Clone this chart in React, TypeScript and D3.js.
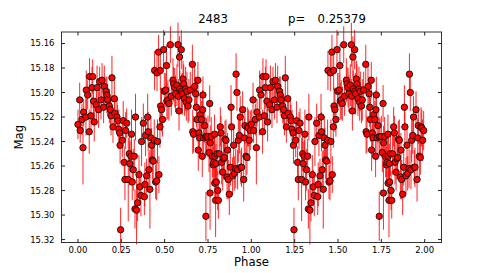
import React, { useRef, useEffect } from "react";
import * as d3 from "d3";

// folded light curve, one cycle (phase 0..1); plotted twice
const phase = [
  0.000, 0.010, 0.013, 0.023, 0.029, 0.033, 0.046, 0.048, 0.056, 0.065,
  0.067, 0.075, 0.081, 0.085, 0.090, 0.094, 0.106, 0.110, 0.119, 0.125,
  0.133, 0.139, 0.148, 0.152, 0.162, 0.167, 0.171, 0.181, 0.187, 0.191,
  0.196, 0.202, 0.210, 0.213, 0.225, 0.229, 0.235, 0.241, 0.243, 0.246,
  0.256, 0.261, 0.267, 0.271, 0.275, 0.281, 0.290, 0.296, 0.299, 0.306,
  0.309, 0.313, 0.319, 0.325, 0.329, 0.332, 0.338, 0.344, 0.352, 0.357,
  0.363, 0.367, 0.377, 0.383, 0.386, 0.390, 0.396, 0.402, 0.405, 0.409,
  0.415, 0.421, 0.425, 0.429, 0.434, 0.440, 0.442, 0.448, 0.454, 0.456,
  0.459, 0.465, 0.467, 0.473, 0.475, 0.477, 0.482, 0.488, 0.494, 0.498,
  0.506, 0.511, 0.513, 0.519, 0.525, 0.533, 0.538, 0.548, 0.552, 0.558,
  0.563, 0.571, 0.577, 0.579, 0.583, 0.586, 0.588, 0.596, 0.598, 0.602,
  0.606, 0.610, 0.615, 0.621, 0.625, 0.629, 0.635, 0.640, 0.648, 0.660,
  0.662, 0.667, 0.673, 0.679, 0.683, 0.687, 0.692, 0.694, 0.698, 0.702,
  0.706, 0.712, 0.717, 0.719, 0.721, 0.725, 0.731, 0.737, 0.738, 0.742,
  0.750, 0.756, 0.760, 0.762, 0.763, 0.769, 0.775, 0.779, 0.783, 0.788,
  0.789, 0.790, 0.794, 0.796, 0.798, 0.802, 0.806, 0.810, 0.815, 0.821,
  0.825, 0.829, 0.835, 0.840, 0.844, 0.848, 0.854, 0.860, 0.863, 0.867,
  0.873, 0.879, 0.883, 0.886, 0.892, 0.898, 0.902, 0.910, 0.912, 0.917,
  0.921, 0.925, 0.931, 0.936, 0.940, 0.944, 0.950, 0.956, 0.960, 0.963,
  0.969, 0.975, 0.979, 0.983, 0.988, 0.994,
];

const mag = [
  15.226, 15.206, 15.231, 15.222, 15.245, 15.216, 15.220, 15.198, 15.202, 15.232,
  15.187, 15.219, 15.196, 15.187, 15.207, 15.224, 15.210, 15.196, 15.214, 15.191,
  15.206, 15.190, 15.212, 15.195, 15.199, 15.202, 15.206, 15.211, 15.214, 15.219,
  15.188, 15.228, 15.205, 15.217, 15.220, 15.223, 15.230, 15.233, 15.243, 15.312,
  15.239, 15.223, 15.257, 15.271, 15.231, 15.225, 15.271, 15.250, 15.258, 15.252,
  15.234, 15.273, 15.263, 15.252, 15.295, 15.220, 15.296, 15.290, 15.267, 15.277,
  15.284, 15.240, 15.225, 15.285, 15.275, 15.235, 15.268, 15.220, 15.232, 15.263,
  15.279, 15.237, 15.243, 15.255, 15.256, 15.239, 15.182, 15.273, 15.272, 15.184,
  15.240, 15.167, 15.267, 15.228, 15.182, 15.211, 15.214, 15.222, 15.165, 15.199,
  15.198, 15.178, 15.207, 15.206, 15.209, 15.161, 15.203, 15.190, 15.193, 15.196,
  15.201, 15.194, 15.161, 15.203, 15.215, 15.171, 15.197, 15.165, 15.199, 15.201,
  15.189, 15.193, 15.205, 15.197, 15.208, 15.199, 15.211, 15.206, 15.198, 15.177,
  15.232, 15.234, 15.195, 15.201, 15.212, 15.222, 15.190, 15.247, 15.233, 15.237,
  15.218, 15.222, 15.252, 15.214, 15.202, 15.237, 15.227, 15.236, 15.301, 15.236,
  15.236, 15.249, 15.209, 15.282, 15.241, 15.236, 15.252, 15.259, 15.257, 15.234,
  15.274, 15.252, 15.288, 15.258, 15.273, 15.250, 15.280, 15.288, 15.250, 15.228,
  15.233, 15.257, 15.265, 15.254, 15.253, 15.238, 15.239, 15.269, 15.247, 15.271,
  15.283, 15.261, 15.212, 15.228, 15.268, 15.243, 15.266, 15.262, 15.185, 15.200,
  15.263, 15.239, 15.235, 15.220, 15.261, 15.261, 15.214, 15.271, 15.237, 15.227,
  15.252, 15.253, 15.228, 15.229, 15.239, 15.231,
];

const err = [
  0.012, 0.014, 0.010, 0.013, 0.030, 0.011, 0.015, 0.016, 0.012, 0.018,
  0.015, 0.013, 0.017, 0.014, 0.012, 0.016, 0.013, 0.018, 0.015, 0.012,
  0.016, 0.014, 0.013, 0.017, 0.012, 0.015, 0.013, 0.014, 0.012, 0.016,
  0.018, 0.013, 0.015, 0.012, 0.014, 0.013, 0.016, 0.012, 0.015, 0.018,
  0.014, 0.016, 0.013, 0.017, 0.015, 0.012, 0.034, 0.014, 0.018, 0.013,
  0.020, 0.015, 0.017, 0.014, 0.016, 0.019, 0.028, 0.015, 0.016, 0.014,
  0.017, 0.020, 0.016, 0.015, 0.018, 0.017, 0.014, 0.019, 0.016, 0.015,
  0.032, 0.018, 0.014, 0.016, 0.015, 0.017, 0.016, 0.014, 0.016, 0.015,
  0.018, 0.014, 0.015, 0.017, 0.016, 0.015, 0.018, 0.014, 0.016, 0.015,
  0.014, 0.017, 0.015, 0.016, 0.014, 0.015, 0.016, 0.018, 0.014, 0.016,
  0.015, 0.017, 0.018, 0.014, 0.016, 0.017, 0.015, 0.016, 0.014, 0.017,
  0.015, 0.016, 0.014, 0.018, 0.015, 0.016, 0.014, 0.017, 0.015, 0.016,
  0.018, 0.015, 0.017, 0.014, 0.016, 0.018, 0.015, 0.017, 0.016, 0.014,
  0.018, 0.015, 0.017, 0.016, 0.015, 0.018, 0.014, 0.016, 0.020, 0.015,
  0.017, 0.016, 0.015, 0.030, 0.014, 0.016, 0.017, 0.015, 0.018, 0.016,
  0.015, 0.017, 0.030, 0.016, 0.015, 0.018, 0.016, 0.015, 0.017, 0.016,
  0.014, 0.018, 0.015, 0.017, 0.016, 0.015, 0.017, 0.018, 0.014, 0.016,
  0.017, 0.015, 0.018, 0.016, 0.015, 0.017, 0.014, 0.016, 0.017, 0.015,
  0.016, 0.018, 0.015, 0.017, 0.014, 0.016, 0.015, 0.018, 0.016, 0.015,
  0.017, 0.014, 0.016, 0.015, 0.017, 0.016,
];

const xTicks = [0, 0.25, 0.5, 0.75, 1.0, 1.25, 1.5, 1.75, 2.0];
const yTicks = [15.16, 15.18, 15.2, 15.22, 15.24, 15.26, 15.28, 15.3, 15.32];

const title = "2483";
const periodLabel = "p=";
const periodValue = "0.25379";

const App = () => {
  const svgRef = useRef(null);

  useEffect(() => {
    const svg = d3.select(svgRef.current);
    const width = 491;
    const height = 273;
    const left = 61.5;
    const right = 441.5;
    const top = 32;
    const bottom = 242.5;
    const font = "DejaVu Sans, sans-serif";

    svg.attr("width", width).attr("height", height);

    const x = d3.scaleLinear().domain([-0.095, 2.097]).range([left, right]);
    const y = d3.scaleLinear().domain([15.1506, 15.3224]).range([top, bottom]);

    // two cycles
    const pts = phase.map((p, i) => ({ p, m: mag[i], e: err[i] }));
    const data = pts.concat(pts.map((d) => ({ ...d, p: d.p + 1 })));

    const g = svg.append("g");

    // error bars first, markers on top
    g.selectAll(".bar")
      .data(data)
      .enter()
      .append("line")
      .attr("x1", (d) => x(d.p))
      .attr("x2", (d) => x(d.p))
      .attr("y1", (d) => y(d.m - d.e))
      .attr("y2", (d) => y(d.m + d.e))
      .attr("stroke", "#ff0000")
      .attr("stroke-opacity", 0.85)
      .attr("stroke-width", 1);

    g.selectAll(".pt")
      .data(data)
      .enter()
      .append("circle")
      .attr("cx", (d) => x(d.p))
      .attr("cy", (d) => y(d.m))
      .attr("r", 3.2)
      .attr("fill", "#ff0000")
      .attr("stroke", "#111")
      .attr("stroke-width", 0.9);

    // frame
    svg
      .append("rect")
      .attr("x", left)
      .attr("y", top)
      .attr("width", right - left)
      .attr("height", bottom - top)
      .attr("fill", "none")
      .attr("stroke", "#333")
      .attr("stroke-width", 1);

    // ticks point inward on all sides
    const tl = 3.5;
    xTicks.forEach((t) => {
      const px = x(t);
      svg.append("line").attr("x1", px).attr("x2", px).attr("y1", bottom).attr("y2", bottom - tl).attr("stroke", "#222");
      svg.append("line").attr("x1", px).attr("x2", px).attr("y1", top).attr("y2", top + tl).attr("stroke", "#222");
      svg
        .append("text")
        .attr("x", px)
        .attr("y", bottom + 10)
        .attr("text-anchor", "middle")
        .style("font-family", font)
        .style("font-size", "8.5px")
        .text(t.toFixed(2));
    });

    yTicks.forEach((t) => {
      const py = y(t);
      svg.append("line").attr("x1", left).attr("x2", left + tl).attr("y1", py).attr("y2", py).attr("stroke", "#222");
      svg.append("line").attr("x1", right).attr("x2", right - tl).attr("y1", py).attr("y2", py).attr("stroke", "#222");
      svg
        .append("text")
        .attr("x", left - 7)
        .attr("y", py)
        .attr("dy", "0.35em")
        .attr("text-anchor", "end")
        .style("font-family", font)
        .style("font-size", "8.5px")
        .text(t.toFixed(2));
    });

    // labels
    svg
      .append("text")
      .attr("x", (left + right) / 2)
      .attr("y", 266)
      .attr("text-anchor", "middle")
      .style("font-family", font)
      .style("font-size", "11.7px")
      .text("Phase");

    svg
      .append("text")
      .attr("transform", `translate(23, ${(top + bottom) / 2}) rotate(-90)`)
      .attr("text-anchor", "middle")
      .style("font-family", font)
      .style("font-size", "11.7px")
      .text("Mag");

    // title
    svg
      .append("text")
      .attr("x", 213)
      .attr("y", 23)
      .attr("text-anchor", "middle")
      .style("font-family", font)
      .style("font-size", "11.7px")
      .text(title);
    svg
      .append("text")
      .attr("x", 288)
      .attr("y", 23)
      .style("font-family", font)
      .style("font-size", "11.7px")
      .text(periodLabel);
    svg
      .append("text")
      .attr("x", 317.5)
      .attr("y", 23)
      .style("font-family", font)
      .style("font-size", "11.7px")
      .text(periodValue);

    return () => {
      svg.selectAll("*").remove();
    };
  }, []);

  return (
    <div style={{ position: "absolute", left: 0, top: 0 }}>
      <svg ref={svgRef} style={{ display: "block" }} />
    </div>
  );
};

export default App;
